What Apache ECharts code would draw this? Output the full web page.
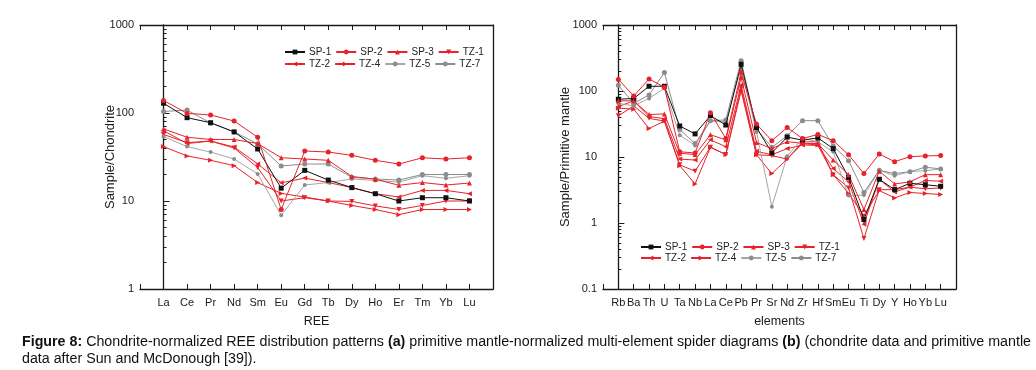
<!DOCTYPE html>
<html><head><meta charset="utf-8">
<script src="https://cdn.jsdelivr.net/npm/echarts@6/dist/echarts.min.js"></script>
<style>html,body{margin:0;padding:0;background:#fff}#c{width:1036px;height:370px}</style>
</head><body><div id="c"></div>
<script>
// ---- data ----
const reeCats = ['La','Ce','Pr','Nd','Sm','Eu','Gd','Tb','Dy','Ho','Er','Tm','Yb','Lu'];
const pmCats = ['Rb','Ba','Th','U','Ta','Nb','La','Ce','Pb','Pr','Sr','Nd','Zr','Hf','Sm','Eu','Ti','Dy','Y','Ho','Yb','Lu'];
const sampleNames = ['SP-1','SP-2','SP-3','TZ-1','TZ-2','TZ-4','TZ-5','TZ-7'];
const reeTicks = [1, 10, 100, 1000];
const pmTicks = [0.1, 1, 10, 100, 1000];

// chondrite-normalized REE (a)
const reeSP1 = [129, 88.5, 77.5, 61, 39, 14, 22.3, 17.3, 14.2, 12.1, 10.0, 10.9, 10.9, 10.0];
const reeSP2 = [139, 99, 95, 81, 53, 8, 37, 36, 33, 29, 26.3, 31, 30, 31];
const reeSP3 = [66, 53, 50, 50, 45, 31, 30, 29, 19, 17.7, 15.1, 16.2, 15.2, 16];
const reeTZ1 = [57, 46, 48, 40, 24, 10, 10.9, 10, 9.9, 8.8, 8, 8.9, 10, 10];
const reeTZ2 = [63, 45, 48, 41, 26.4, 16.1, 18.2, 16.2, 14.2, 12.1, 11.1, 13.2, 13.2, 12.1];
const reeTZ4 = [41.5, 32.5, 29, 25.2, 16.2, 12.2, 11.1, 10, 8.9, 8, 7, 8, 8, 8];
const reeTZ5 = [54, 41.5, 36, 30, 20.3, 6.9, 15.2, 16.2, 17.8, 17.1, 16.4, 19.4, 18.1, 19.4];
const reeTZ7 = [104, 108, 77, 61, 44.5, 25, 26.3, 26.3, 18.6, 17.8, 17.3, 20, 20, 20];

// primitive-mantle-normalized spider (b)
const pmSP1 = [75, 77, 118, 118, 29.5, 22.4, 42.4, 30.5, 254, 28, 11.6, 20, 18, 19.5, 13.4, 4.9, 1.13, 4.6, 3.2, 4.0, 3.8, 3.6];
const pmSP2 = [150, 84, 152, 114, 12, 11.5, 47, 19, 190, 31.6, 17.7, 28, 19, 22, 17.7, 10.8, 5.6, 11.1, 8.5, 10.1, 10.4, 10.5];
const pmSP3 = [71, 71, 44, 45, 11.4, 10.9, 21.7, 18.2, 161, 16.6, 13.4, 17.1, 16.1, 16, 9.0, 5.4, 1.6, 6.1, 3.9, 4.2, 5.4, 5.4];
const pmTZ1 = [42, 59.5, 38.5, 35, 7.6, 6.1, 14.1, 10.9, 110, 10.8, 10.5, 9.3, 17, 17, 5.4, 3.4, 0.58, 3.2, 3.2, 3.5, 3.3, 3.4];
const pmTZ2 = [58, 71, 41, 38, 9.3, 9.0, 18.2, 14.3, 123, 12.2, 10.8, 13.4, 15.2, 15, 6.7, 4.2, 0.96, 4.6, 2.95, 3.5, 4.4, 4.3];
const pmTZ4 = [55, 53, 27, 35, 7.4, 3.9, 14, 10.9, 100, 10.8, 5.6, 9.3, 16, 15.2, 5.4, 2.8, 1.3, 3.1, 2.4, 2.9, 2.8, 2.7];
const pmTZ5 = [65, 59.5, 77, 110, 21.3, 15, 35, 34, 226, 24, 1.77, 10.3, 19.3, 17, 12, 2.6, 2.65, 6.3, 5.2, 6.0, 6.2, 6.6];
const pmTZ7 = [122, 65, 87, 190, 26, 16, 35.5, 36.4, 288, 26.7, 14, 21, 35.5, 35.5, 14.7, 8.8, 2.9, 6.3, 5.6, 6.0, 7.0, 6.6];

// ---- styles ----
const FONT = 'Arial, "Liberation Sans", Helvetica, sans-serif';
const RED = '#e8222b', BLACK = '#111111', GRAY = '#8c8c8c';
const styles = {
  'SP-1': {color: BLACK, symbol: 'rect', rot: 0, size: 5},
  'SP-2': {color: RED, symbol: 'circle', rot: 0, size: 5},
  'SP-3': {color: RED, symbol: 'triangle', rot: 0, size: 5},
  'TZ-1': {color: RED, symbol: 'triangle', rot: 180, size: 5},
  'TZ-2': {color: RED, symbol: 'triangle', rot: 90, size: 5},
  'TZ-4': {color: RED, symbol: 'triangle', rot: -90, size: 5},
  'TZ-5': {color: GRAY, symbol: 'circle', rot: 0, size: 4},
  'TZ-7': {color: GRAY, symbol: 'circle', rot: 0, size: 5}
};
const reeData = [reeSP1, reeSP2, reeSP3, reeTZ1, reeTZ2, reeTZ4, reeTZ5, reeTZ7];
const pmData = [pmSP1, pmSP2, pmSP3, pmTZ1, pmTZ2, pmTZ4, pmTZ5, pmTZ7];

function minorValues(lo, hi) {
  const out = [];
  for (let d = lo; d < hi * 0.999; d *= 10) for (let k = 2; k <= 9; k++) out.push(+(d * k).toPrecision(6));
  return out;
}

function mkSeries(arrs, xi, yi) {
  return arrs.map((arr, s) => {
    const name = sampleNames[s], st = styles[name];
    return {
      name, type: 'line', xAxisIndex: xi, yAxisIndex: yi,
      data: arr.map((v, i) => [i, v]),
      symbol: st.symbol, symbolRotate: st.rot, symbolSize: st.size,
      lineStyle: {color: name === 'TZ-5' ? '#a6a6a6' : st.color, width: 1},
      itemStyle: {color: st.color},
      emphasis: {disabled: true}, animation: false, z: name.startsWith('SP') ? 3 : 2
    };
  });
}

const axisLine = {show: true, lineStyle: {color: '#1a1a1a', width: 1.3}};
function xAxes(cats, gi, title, gap) {
  const base = {type: 'value', gridIndex: gi, min: -1, max: cats.length, interval: 1, splitLine: {show: false}, axisLine};
  return [
    Object.assign({}, base, {
      position: 'bottom',
      axisTick: {inside: true, length: 5, lineStyle: {color: '#1a1a1a'}},
      axisLabel: {margin: 8, fontSize: 11, color: '#1a1a1a', fontFamily: FONT, formatter: v => cats[v] !== undefined ? cats[v] : ''},
      name: title, nameLocation: 'middle', nameGap: gap, nameMoveOverlap: false,
      nameTextStyle: {fontSize: 12.5, color: '#1a1a1a', fontFamily: FONT}
    }),
    Object.assign({}, base, {
      position: 'top', axisLabel: {show: false},
      axisTick: {inside: true, length: 5, lineStyle: {color: '#1a1a1a'}}
    })
  ];
}
function yAxes(lo, hi, gi, title, gap) {
  const base = {type: 'log', logBase: 10, gridIndex: gi, min: lo, max: hi, splitLine: {show: false}};
  return [
    Object.assign({}, base, {
      position: 'left', axisLine,
      axisTick: {inside: true, length: 6, lineStyle: {color: '#1a1a1a'}},
      axisLabel: {margin: 6, fontSize: 11, color: '#1a1a1a', fontFamily: FONT, formatter: v => String(+(+v).toPrecision(6))},
      name: title, nameLocation: 'middle', nameGap: gap, nameMoveOverlap: false,
      nameTextStyle: {fontSize: 13, color: '#1a1a1a', fontFamily: FONT}
    }),
    Object.assign({}, base, {
      position: 'left', axisLine: {show: false}, axisLabel: {show: false},
      axisTick: {inside: true, length: 3, customValues: minorValues(lo, hi), lineStyle: {color: '#1a1a1a'}}
    }),
    Object.assign({}, base, {
      position: 'right', axisLine, axisLabel: {show: false}, axisTick: {show: false}
    })
  ];
}

function legends(left, top1, top2) {
  const common = {itemWidth: 20, itemHeight: 6, itemGap: 4, padding: 0, selectedMode: false,
    textStyle: {fontSize: 10, color: '#222', fontFamily: FONT, padding: [0, 0, 0, -1]}};
  return [
    Object.assign({left, top: top1, data: sampleNames.slice(0, 4)}, common),
    Object.assign({left, top: top2, data: sampleNames.slice(4)}, common)
  ];
}

const chart = echarts.init(document.getElementById('c'), null, {renderer: 'canvas'});
chart.setOption({
  animation: false,
  backgroundColor: '#fff',
  grid: [
    {left: 140, top: 25, width: 353, height: 264},
    {left: 603, top: 25, width: 353, height: 264}
  ],
  xAxis: [...xAxes(reeCats, 0, 'REE', 26), ...xAxes(pmCats, 1, 'elements', 26)],
  yAxis: [...yAxes(reeTicks[0], reeTicks[reeTicks.length - 1], 0, 'Sample/Chondrite', 23),
          ...yAxes(pmTicks[0], pmTicks[pmTicks.length - 1], 1, 'Sample/Primitive mantle', 31)],
  legend: [...legends(284, 47, 59), ...legends(640, 242, 253)],
  series: [...mkSeries(reeData, 0, 0), ...mkSeries(pmData, 2, 3)],
  graphic: [{
    type: 'text', left: 22, top: 334,
    style: {
      text: '{b|Figure 8:} Chondrite-normalized REE distribution patterns {b|(a)} primitive mantle-normalized multi-element spider diagrams {b|(b)} (chondrite data and primitive mantle\ndata after Sun and McDonough [39]).',
      font: '14.25px ' + FONT, fill: '#111', lineHeight: 17,
      rich: {b: {fontWeight: 'bold', fontSize: 14.25, fontFamily: FONT, fill: '#111'}}
    }
  }]
});
</script></body></html>
